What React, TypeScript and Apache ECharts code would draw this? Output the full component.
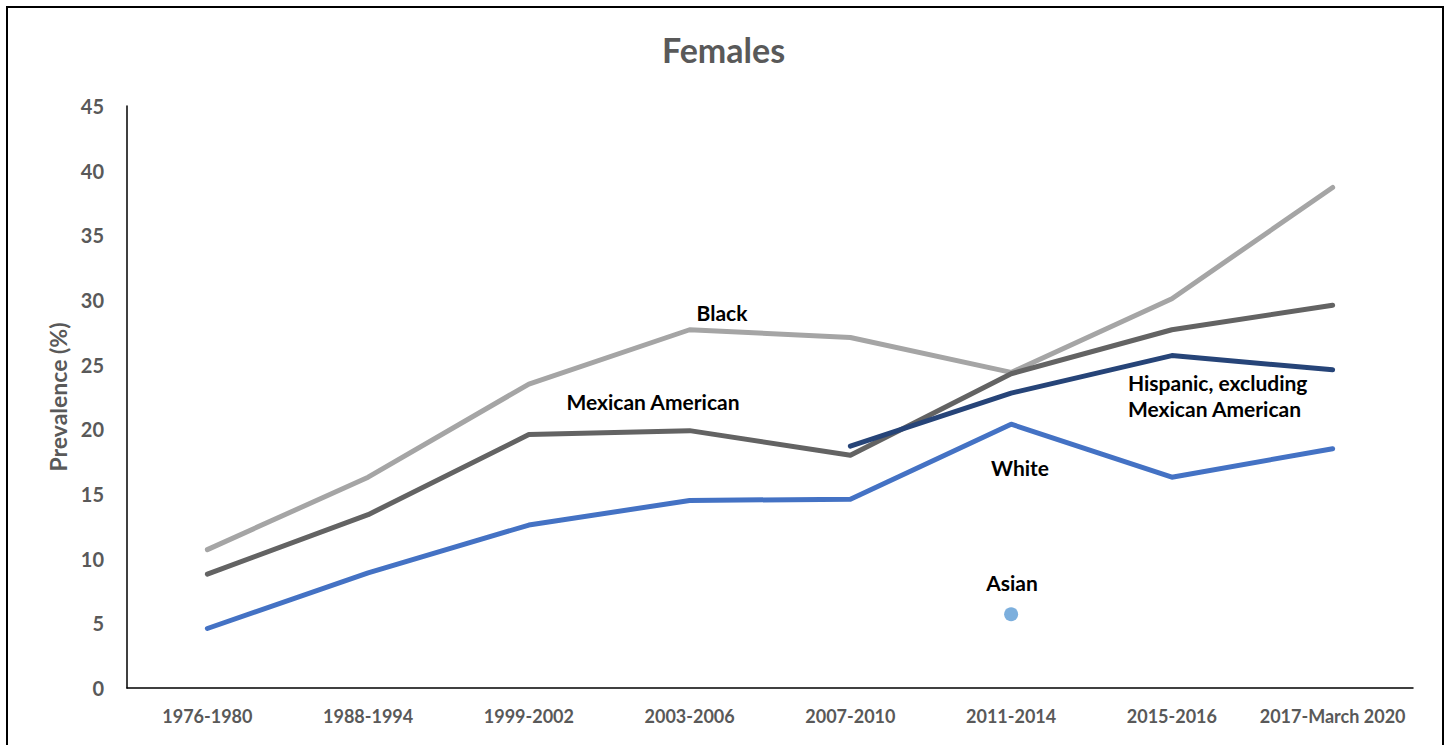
import React, { useEffect, useRef } from "react";
import * as echarts from "echarts";

const categories = ["1976-1980", "1988-1994", "1999-2002", "2003-2006", "2007-2010", "2011-2014", "2015-2016", "2017-March 2020"];
const blackValues = [10.7, 16.3, 23.5, 27.7, 27.1, 24.4, 30.1, 38.7];
const mexicanValues = [8.8, 13.4, 19.6, 19.9, 18.0, 24.3, 27.7, 29.6];
const whiteValues = [4.6, 8.9, 12.6, 14.5, 14.6, 20.4, 16.3, 18.5];
const hispanicValues: (number | null)[] = [null, null, null, null, 18.7, 22.8, 25.7, 24.6];
const asianValues: (number | null)[] = [null, null, null, null, null, 5.7, null, null];
const yTicks = [0, 5, 10, 15, 20, 25, 30, 35, 40, 45];

const FONT = "Lato, 'Open Sans', sans-serif";

export default function App() {
  const ref = useRef<HTMLDivElement>(null);
  useEffect(() => {
    if (!ref.current) return;
    const chart = echarts.init(ref.current, null, { renderer: "svg" });
    const lineStyle = (color: string) => ({ color, width: 5, cap: "round" as const, join: "round" as const });
    const labelText = (text: string, x: number, y: number, align = "center") => ({
      type: "text",
      x,
      y,
      style: { text, fill: "#000", font: `bold 21px ${FONT}`, textAlign: align, textVerticalAlign: "middle", lineHeight: 26 },
    });
    chart.setOption({
      animation: false,
      title: {
        text: "Females",
        left: "center",
        top: 27,
        textStyle: { color: "#595959", fontSize: 34, fontWeight: "bold", fontFamily: FONT },
      },
      grid: { left: 127, right: 34, top: 106, bottom: 57 },
      xAxis: {
        type: "category",
        data: categories,
        boundaryGap: true,
        axisLine: { lineStyle: { color: "#000", width: 1.5 } },
        axisTick: { show: false },
        axisLabel: { color: "#595959", fontSize: 18, fontWeight: "bold", fontFamily: FONT, margin: 19, interval: 0 },
      },
      yAxis: {
        type: "value",
        min: yTicks[0],
        max: yTicks[yTicks.length - 1],
        interval: 5,
        name: "Prevalence (%)",
        nameLocation: "middle",
        nameGap: 58,
        nameTextStyle: { color: "#595959", fontSize: 23, fontWeight: "bold", fontFamily: FONT },
        axisLine: { show: true, lineStyle: { color: "#000", width: 1.5 } },
        axisTick: { show: false },
        splitLine: { show: false },
        axisLabel: { color: "#595959", fontSize: 20, fontWeight: "bold", fontFamily: FONT, margin: 23 },
      },
      series: [
        { name: "Black", type: "line", data: blackValues, symbol: "none", lineStyle: lineStyle("#A5A5A5") },
        { name: "Mexican American", type: "line", data: mexicanValues, symbol: "none", lineStyle: lineStyle("#636363") },
        { name: "Hispanic, excluding Mexican American", type: "line", data: hispanicValues, symbol: "none", lineStyle: lineStyle("#264478") },
        { name: "White", type: "line", data: whiteValues, symbol: "none", lineStyle: lineStyle("#4472C4") },
        { name: "Asian", type: "scatter", data: asianValues, symbolSize: 14, itemStyle: { color: "#5B9BD5" } },
      ],
      graphic: [
        labelText("Black", 722, 312),
        labelText("Mexican American", 653, 401),
        labelText("Hispanic, excluding\nMexican American", 1128, 395, "left"),
        labelText("White", 1020, 467),
        labelText("Asian", 1012, 582),
      ],
    });
    return () => chart.dispose();
  }, []);
  return (
    <div style={{ position: "absolute", left: 0, top: 0, width: 1447, height: 745, overflow: "hidden", background: "#fff" }}>
      <div
        style={{
          position: "absolute",
          left: 6,
          top: 6,
          width: 1438,
          height: 800,
          border: "2px solid #000",
          boxSizing: "border-box",
        }}
      />
      <div ref={ref} style={{ position: "absolute", left: 0, top: 0, width: 1447, height: 745 }} />
    </div>
  );
}
